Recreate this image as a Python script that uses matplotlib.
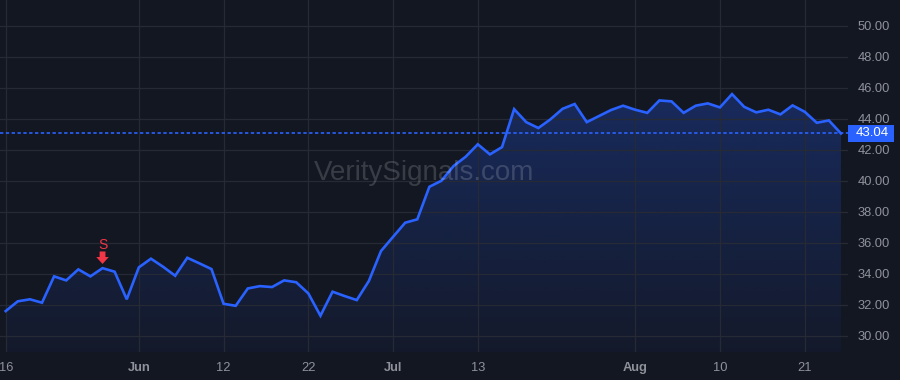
import numpy as np
import matplotlib
matplotlib.use('Agg')
import matplotlib.pyplot as plt
from matplotlib import transforms
from matplotlib.patches import Rectangle

plt.rcParams['font.family'] = ['Liberation Sans', 'DejaVu Sans']

# daily closes
prices = [31.58, 32.21, 32.34, 32.12, 33.82, 33.56, 34.27, 33.82, 34.35, 34.12,
          32.34, 34.40, 34.96, 34.44, 33.86, 35.02, 34.66, 34.29, 32.05, 31.92,
          33.04, 33.19, 33.13, 33.56, 33.44, 32.72, 31.28, 32.83, 32.55, 32.29,
          33.52, 35.45, 36.37, 37.28, 37.50, 39.60, 39.99, 40.94, 41.54, 42.34,
          41.69, 42.16, 44.61, 43.77, 43.39, 43.95, 44.63, 44.94, 43.77, 44.16,
          44.55, 44.83, 44.57, 44.37, 45.17, 45.11, 44.37, 44.83, 44.98, 44.72,
          45.58, 44.76, 44.40, 44.57, 44.27, 44.85, 44.44, 43.73, 43.88, 43.04]
tick_idx = [0, 11, 18, 25, 32, 39, 52, 59, 66]
tick_labels = ['16', 'Jun', '12', '22', 'Jul', '13', 'Aug', '10', '21']
month_labels = ['Jun', 'Jul', 'Aug']
y_ticks = [30, 32, 34, 36, 38, 40, 42, 44, 46, 48, 50]
signal_idx = 8
signal_text = 'S'
last_price = prices[-1]

bg = '#131722'
grid = '#262a35'
txt = '#8f929b'
blue = '#2962ff'
red = '#f23645'

fig = plt.figure(figsize=(9, 3.8), dpi=100, facecolor=bg)
ax = fig.add_axes([0, 28 / 380, 848 / 900, 352 / 380], facecolor=bg)

x = np.arange(len(prices))
ax.set_xlim(-0.47, len(prices) - 1 + 0.58)
ylo, yhi = 28.94, 51.65
ax.set_ylim(ylo, yhi)

# gradient area under the line
poly = ax.fill_between(x, prices, ylo, color='none', lw=0)
grad = np.zeros((256, 1, 4))
grad[:, 0, :3] = matplotlib.colors.to_rgb(blue)
grad[:, 0, 3] = np.linspace(0.04, 0.27, 256)
im = ax.imshow(grad, extent=[x[0], x[-1], ylo, max(prices)], origin='lower',
               aspect='auto', zorder=1)
im.set_clip_path(poly.get_paths()[0], transform=ax.transData)

ax.plot(x, prices, color=blue, lw=1.9, zorder=3, solid_joinstyle='miter')
ax.axhline(last_price, color=blue, lw=1.2, ls=(0, (2, 1.5)), zorder=2)

# grid
ax.set_xticks(tick_idx)
ax.set_xticklabels(tick_labels)
ax.set_yticks(y_ticks)
ax.set_yticklabels(['%.2f' % v for v in y_ticks])
ax.grid(True, color=grid, lw=0.9, zorder=0)
ax.yaxis.tick_right()
ax.tick_params(axis='y', length=0, pad=7, labelsize=9.3, labelcolor=txt)
ax.tick_params(axis='x', length=0, pad=7, labelsize=9.3, labelcolor=txt)
for lab in ax.get_xticklabels():
    if lab.get_text() in month_labels:
        lab.set_fontweight('bold')
for s in ax.spines.values():
    s.set_visible(False)

# last price label on the scale
trans = transforms.blended_transform_factory(ax.transAxes, ax.transData)
ax.add_patch(Rectangle((1.0, last_price - 0.56), 46 / 848, 1.12, transform=trans,
                       fc=blue, ec='none', clip_on=False, zorder=5))
ax.text(1.0 + 24 / 848, last_price, '%.2f' % last_price, transform=trans,
        ha='center', va='center', color='white', fontsize=9.5, zorder=6)

# sell signal
tip = transforms.offset_copy(ax.transData, fig=fig, y=3, units='points')
ax.annotate('', xy=(signal_idx, prices[signal_idx]), xycoords=tip,
            xytext=(0, 9), textcoords='offset points',
            arrowprops=dict(arrowstyle='simple,head_width=0.9,head_length=0.5,tail_width=0.42',
                            color=red, lw=0, shrinkA=0, shrinkB=0), zorder=6)
ax.annotate(signal_text, xy=(signal_idx, prices[signal_idx]), xytext=(0, 16.5),
            textcoords='offset points', ha='center', va='center', color=red,
            fontsize=10, zorder=6)

# watermark
fig.text(424 / 900, 1 - 173 / 380, 'VeritySignals.com', ha='center', va='center',
         fontsize=20, color='white', alpha=0.16)

fig.savefig('out.png', dpi=100, facecolor=bg)
